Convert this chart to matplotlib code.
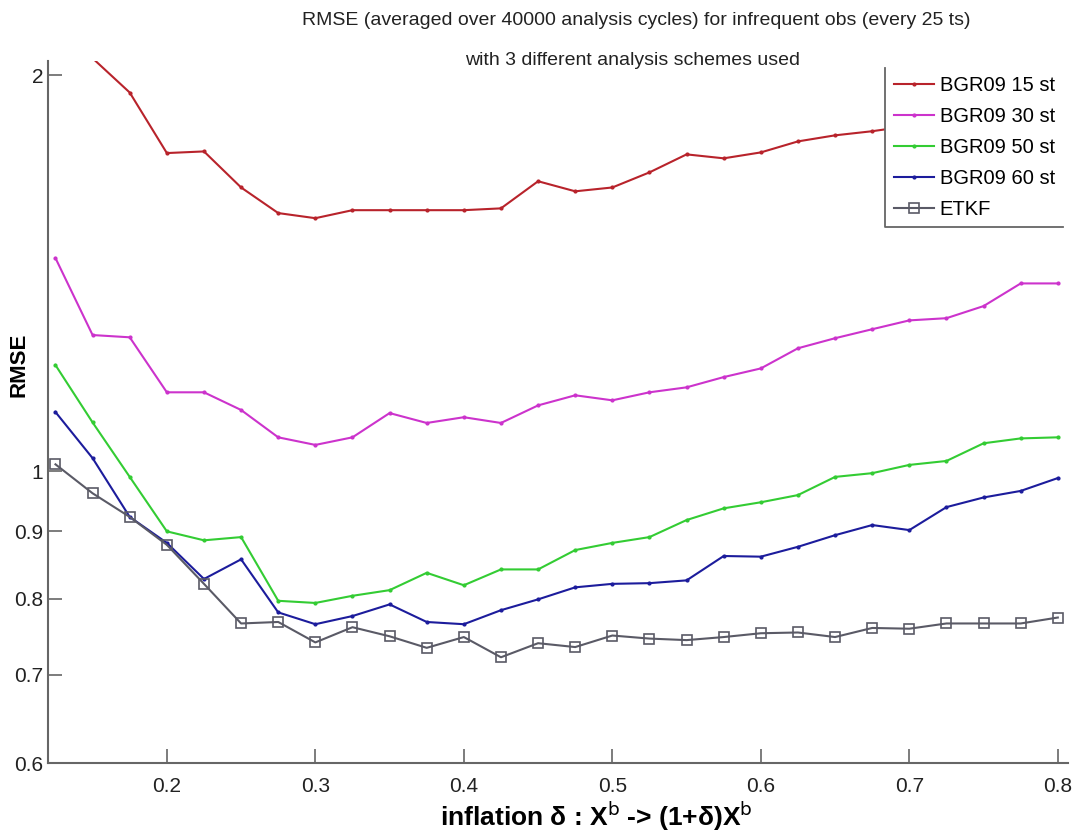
import numpy as np
import matplotlib.pyplot as plt
from matplotlib.ticker import FixedLocator, FixedFormatter, NullLocator

plt.rcParams['font.family'] = ['Liberation Sans', 'DejaVu Sans']

# inflation values 0.125 : 0.025 : 0.8
delta = [0.125, 0.15, 0.175, 0.2, 0.225, 0.25, 0.275, 0.3, 0.325, 0.35,
         0.375, 0.4, 0.425, 0.45, 0.475, 0.5, 0.525, 0.55, 0.575, 0.6,
         0.625, 0.65, 0.675, 0.7, 0.725, 0.75, 0.775, 0.8]

bgr15 = [2.30, 2.06, 1.94, 1.745, 1.75, 1.643, 1.571, 1.557, 1.579, 1.579,
         1.579, 1.579, 1.584, 1.661, 1.632, 1.643, 1.687, 1.741, 1.729, 1.747,
         1.781, 1.80, 1.813, 1.83, 1.85, 1.87, 1.89, 1.90]
bgr30 = [1.452, 1.269, 1.264, 1.148, 1.148, 1.113, 1.061, 1.047, 1.061, 1.107,
         1.088, 1.099, 1.088, 1.122, 1.142, 1.132, 1.148, 1.158, 1.179, 1.197,
         1.240, 1.262, 1.282, 1.302, 1.307, 1.335, 1.389, 1.389]
bgr50 = [1.204, 1.089, 0.990, 0.900, 0.886, 0.891, 0.797, 0.794, 0.804, 0.812,
         0.837, 0.819, 0.842, 0.842, 0.871, 0.882, 0.891, 0.918, 0.937, 0.947,
         0.959, 0.990, 0.9965, 1.011, 1.018, 1.050, 1.059, 1.061]
bgr60 = [1.109, 1.023, 0.923, 0.882, 0.828, 0.857, 0.781, 0.765, 0.776, 0.792,
         0.768, 0.765, 0.784, 0.799, 0.816, 0.821, 0.822, 0.826, 0.862, 0.861,
         0.876, 0.894, 0.910, 0.902, 0.939, 0.955, 0.966, 0.988]
etkf = [1.012, 0.962, 0.923, 0.879, 0.821, 0.766, 0.768, 0.741, 0.761, 0.749,
        0.734, 0.748, 0.722, 0.740, 0.735, 0.750, 0.746, 0.744, 0.748, 0.753,
        0.754, 0.748, 0.760, 0.759, 0.766, 0.766, 0.766, 0.774]

yticks = [0.6, 0.7, 0.8, 0.9, 1, 2]
ytick_labels = ['0.6', '0.7', '0.8', '0.9', '1', '2']
xticks = [0.2, 0.3, 0.4, 0.5, 0.6, 0.7, 0.8]

fig = plt.figure(figsize=(10.75, 8.36), dpi=100)
ax = fig.add_axes([0.0447, 0.0873, 0.949, 0.8397])

ax.plot(delta, bgr15, '.-', color='#b8232b', lw=1.5, ms=4, label='BGR09 15 st')
ax.plot(delta, bgr30, '.-', color='#cc33cc', lw=1.5, ms=4, label='BGR09 30 st')
ax.plot(delta, bgr50, '.-', color='#33cc33', lw=1.5, ms=4, label='BGR09 50 st')
ax.plot(delta, bgr60, '.-', color='#1c1c9c', lw=1.5, ms=4, label='BGR09 60 st')
ax.plot(delta, etkf, 's-', color='#5a5a66', lw=1.5, ms=6.5, mfc='none', mew=1.2, label='ETKF')

ax.set_yscale('log')
ax.set_xlim(0.12, 0.807)
ax.set_ylim(0.6, 2.05)

ax.yaxis.set_major_locator(FixedLocator(yticks))
ax.yaxis.set_major_formatter(FixedFormatter(ytick_labels))
ax.yaxis.set_minor_locator(NullLocator())
ax.set_xticks(xticks)
ax.set_xticklabels([str(x) for x in xticks])

for side in ['top', 'right']:
    ax.spines[side].set_visible(False)
for side in ['left', 'bottom']:
    ax.spines[side].set_color('#666666')
    ax.spines[side].set_linewidth(1.5)
ax.tick_params(direction='in', length=10, width=1.2, color='#666666',
               labelsize=15, labelcolor='#222222')
ax.tick_params(axis='x', pad=10)

ax.set_ylabel('RMSE', fontsize=16, fontweight='bold')
ax.yaxis.set_label_coords(-0.018, 0.567)
ax.set_xlabel('inflation δ : X$^{\\rm b}$ -> (1+δ)X$^{\\rm b}$', fontsize=19, fontweight='bold')
ax.xaxis.set_label_coords(0.537, -0.052)

fig.text(0.592, 0.976, 'RMSE (averaged over 40000 analysis cycles) for infrequent obs (every 25 ts)',
         ha='center', va='center', fontsize=14, color='#222222')
fig.text(0.588, 0.928, 'with 3 different analysis schemes used',
         ha='center', va='center', fontsize=14, color='#222222')

leg = ax.legend(loc='upper right', bbox_to_anchor=(0.995, 0.990), fontsize=14.5,
                frameon=True, fancybox=False, handlelength=2.0, handletextpad=0.3,
                borderpad=0.4, labelspacing=0.6, borderaxespad=0.0)
leg.get_frame().set_edgecolor('none')
leg.get_frame().set_alpha(1.0)

# only left and bottom border of the legend box, like the original
fig.canvas.draw()
bb = leg.get_window_extent().transformed(fig.transFigure.inverted())
fig.add_artist(plt.Line2D([bb.x0, bb.x0, bb.x1], [bb.y1, bb.y0, bb.y0],
                          transform=fig.transFigure, color='#666666', lw=1.3))

fig.savefig('out.png', dpi=100)
